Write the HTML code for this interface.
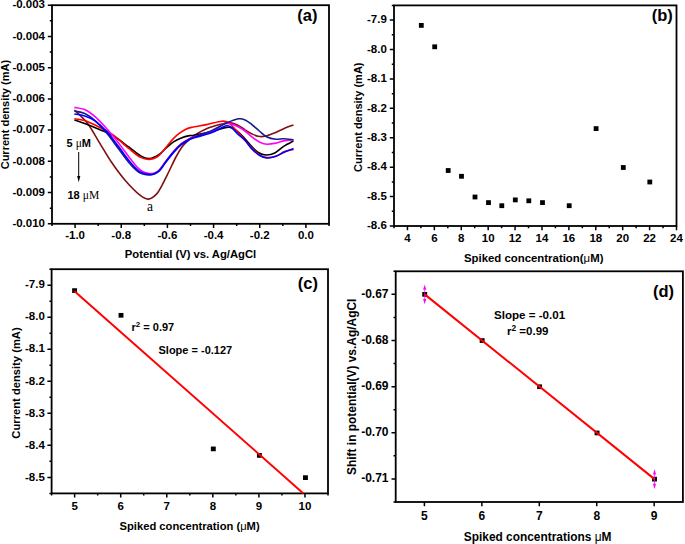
<!DOCTYPE html><html><head><meta charset="utf-8"><style>html,body{margin:0;padding:0;background:#fff;width:685px;height:544px;overflow:hidden}svg{display:block}text{font-family:"Liberation Sans", sans-serif;font-weight:bold;fill:#000}</style></head><body>
<svg width="685" height="544" viewBox="0 0 685 544">
<rect width="685" height="544" fill="#fff"/>
<rect x="52" y="5.2" width="277" height="218.6" fill="none" stroke="#000" stroke-width="1.8"/>
<path d="M75.08 223.8v4.2M121.25 223.8v4.2M167.42 223.8v4.2M213.58 223.8v4.2M259.75 223.8v4.2M305.92 223.8v4.2M52 223.8v2.2M98.17 223.8v2.2M144.33 223.8v2.2M190.5 223.8v2.2M236.67 223.8v2.2M282.83 223.8v2.2M329 223.8v2.2M52 223.8h-4.2M52 192.57h-4.2M52 161.34h-4.2M52 130.11h-4.2M52 98.89h-4.2M52 67.66h-4.2M52 36.43h-4.2M52 5.2h-4.2M52 208.19h-2.2M52 176.96h-2.2M52 145.73h-2.2M52 114.5h-2.2M52 83.27h-2.2M52 52.04h-2.2M52 20.81h-2.2" stroke="#000" stroke-width="1.5" fill="none"/>
<text x="75.08" y="239" font-size="11.5" text-anchor="middle">-1.0</text>
<text x="121.25" y="239" font-size="11.5" text-anchor="middle">-0.8</text>
<text x="167.42" y="239" font-size="11.5" text-anchor="middle">-0.6</text>
<text x="213.58" y="239" font-size="11.5" text-anchor="middle">-0.4</text>
<text x="259.75" y="239" font-size="11.5" text-anchor="middle">-0.2</text>
<text x="305.92" y="239" font-size="11.5" text-anchor="middle">0.0</text>
<text x="45" y="227.02" font-size="11.5" text-anchor="end">-0.010</text>
<text x="45" y="195.79" font-size="11.5" text-anchor="end">-0.009</text>
<text x="45" y="164.56" font-size="11.5" text-anchor="end">-0.008</text>
<text x="45" y="133.33" font-size="11.5" text-anchor="end">-0.007</text>
<text x="45" y="102.1" font-size="11.5" text-anchor="end">-0.006</text>
<text x="45" y="70.87" font-size="11.5" text-anchor="end">-0.005</text>
<text x="45" y="39.65" font-size="11.5" text-anchor="end">-0.004</text>
<text x="45" y="8.42" font-size="11.5" text-anchor="end">-0.003</text>
<path d="M74.4 110C76.6 112.25 83.43 118.07 87.6 123.5C91.77 128.93 95.47 136.22 99.4 142.6C103.33 148.98 107.03 155.67 111.2 161.8C115.37 167.93 119.6 173.83 124.4 179.4C129.2 184.97 136.02 191.92 140 195.2C143.98 198.48 145.55 199.28 148.3 199.1C151.05 198.92 154.22 196.4 156.5 194.1C158.78 191.8 159.97 188.98 162 185.3C164.03 181.62 166.42 176.63 168.7 172C170.98 167.37 173.45 161.72 175.7 157.5C177.95 153.28 180.05 149.58 182.2 146.7C184.35 143.82 186.62 142.05 188.6 140.2C190.58 138.35 191.12 137.52 194.1 135.6C197.08 133.68 201.68 130.68 206.5 128.7C211.32 126.72 219.32 124.72 223 123.7C226.68 122.68 226.2 122.4 228.6 122.6C231 122.8 234.67 123.68 237.4 124.9C240.13 126.12 242.63 128.43 245 129.9C247.37 131.37 249.4 132.63 251.6 133.7C253.8 134.77 255.98 135.87 258.2 136.3C260.42 136.73 262.32 136.82 264.9 136.3C267.48 135.78 270.58 134.47 273.7 133.2C276.82 131.93 280.3 130.08 283.6 128.7C286.9 127.32 291.85 125.53 293.5 124.9" stroke="#7f1010" stroke-width="1.6" fill="none" stroke-linejoin="round"/>
<path d="M74.4 119.9C76.12 120.5 80.53 121.92 84.7 123.5C88.87 125.08 94.75 127.43 99.4 129.4C104.05 131.37 107.7 132.37 112.6 135.3C117.5 138.23 124.13 143.57 128.8 147C133.47 150.43 137.17 153.97 140.6 155.9C144.03 157.83 146.3 158.83 149.4 158.6C152.5 158.37 156.35 156.33 159.2 154.5C162.05 152.67 164.05 149.75 166.5 147.6C168.95 145.45 171.43 143.22 173.9 141.6C176.37 139.98 178.7 138.9 181.3 137.9C183.9 136.9 187.37 136.05 189.5 135.6C191.63 135.15 190.35 135.88 194.1 135.2C197.85 134.52 206.8 132.77 212 131.5C217.2 130.23 222.17 128.25 225.3 127.6C228.43 126.95 228.78 126.95 230.8 127.6C232.82 128.25 235.03 129.65 237.4 131.5C239.77 133.35 242.63 136.22 245 138.7C247.37 141.18 249.4 144.1 251.6 146.4C253.8 148.7 255.8 151.07 258.2 152.5C260.6 153.93 263.23 154.92 266 155C268.77 155.08 271.87 154.43 274.8 153C277.73 151.57 280.48 148.42 283.6 146.4C286.72 144.38 291.85 141.82 293.5 140.9" stroke="#000000" stroke-width="1.6" fill="none" stroke-linejoin="round"/>
<path d="M74.4 118.8C76.12 119.1 80.53 119.2 84.7 120.6C88.87 122 94.75 124.87 99.4 127.2C104.05 129.53 107.7 131.05 112.6 134.6C117.5 138.15 124.13 144.7 128.8 148.5C133.47 152.3 137.17 155.58 140.6 157.4C144.03 159.22 146.6 159.5 149.4 159.4C152.2 159.3 155 158.32 157.4 156.8C159.8 155.28 161.52 152.92 163.8 150.3C166.08 147.68 168.8 143.7 171.1 141.1C173.4 138.5 175.3 136.6 177.6 134.7C179.9 132.8 182.6 130.92 184.9 129.7C187.2 128.48 187.8 128.25 191.4 127.4C195 126.55 201.43 125.63 206.5 124.6C211.57 123.57 218.12 121.53 221.8 121.2C225.48 120.87 226.18 121.07 228.6 122.6C231.02 124.13 233.73 127.63 236.3 130.4C238.87 133.17 241.55 136.43 244 139.2C246.45 141.97 248.45 144.4 251 147C253.55 149.6 256.63 153.03 259.3 154.8C261.97 156.57 264.23 157.37 267 157.6C269.77 157.83 272.95 157.2 275.9 156.2C278.85 155.2 281.77 152.73 284.7 151.6C287.63 150.47 292.03 149.77 293.5 149.4" stroke="#ff0000" stroke-width="1.6" fill="none" stroke-linejoin="round"/>
<path d="M74.4 107.4C76.12 107.77 81.27 108.05 84.7 109.6C88.13 111.15 91.32 113.52 95 116.7C98.68 119.88 102.88 124.33 106.8 128.7C110.72 133.07 114.83 138.23 118.5 142.9C122.17 147.57 125.62 152.58 128.8 156.7C131.98 160.82 135.23 165.1 137.6 167.6C139.97 170.1 141.03 170.72 143 171.7C144.97 172.68 147.48 173.28 149.4 173.5C151.32 173.72 152.95 173.48 154.5 173C156.05 172.52 157.37 171.77 158.7 170.6C160.03 169.43 161.2 167.7 162.5 166C163.8 164.3 164.6 162.88 166.5 160.4C168.4 157.92 171.43 153.88 173.9 151.1C176.37 148.32 178.85 145.7 181.3 143.7C183.75 141.7 186.47 140.25 188.6 139.1C190.73 137.95 190.2 138.05 194.1 136.8C198 135.55 207.18 133.68 212 131.6C216.82 129.52 220.05 125.62 223 124.3C225.95 122.98 227.12 123.25 229.7 123.7C232.28 124.15 235.95 125.78 238.5 127C241.05 128.22 242.63 129.23 245 131C247.37 132.77 250.13 135.68 252.7 137.6C255.27 139.52 258.02 141.4 260.4 142.5C262.78 143.6 264.42 144.1 267 144.2C269.58 144.3 273.13 143.65 275.9 143.1C278.67 142.55 280.67 141.45 283.6 140.9C286.53 140.35 291.85 139.98 293.5 139.8" stroke="#ff00ff" stroke-width="1.6" fill="none" stroke-linejoin="round"/>
<path d="M74.4 111C76.12 111.42 81.27 111.9 84.7 113.5C88.13 115.1 91.32 117.3 95 120.6C98.68 123.9 102.88 128.62 106.8 133.3C110.72 137.98 114.83 143.85 118.5 148.7C122.17 153.55 125.62 158.62 128.8 162.4C131.98 166.18 135.23 169.47 137.6 171.4C139.97 173.33 141.03 173.4 143 174C144.97 174.6 147.48 175.1 149.4 175C151.32 174.9 152.95 174.07 154.5 173.4C156.05 172.73 157.37 172.17 158.7 171C160.03 169.83 161.2 168.1 162.5 166.4C163.8 164.7 164.6 163.28 166.5 160.8C168.4 158.32 171.43 154.28 173.9 151.5C176.37 148.72 178.85 146.1 181.3 144.1C183.75 142.1 186.47 140.65 188.6 139.5C190.73 138.35 190.2 138.72 194.1 137.2C198 135.68 206.43 132.83 212 130.4C217.57 127.97 223.08 124.53 227.5 122.6C231.92 120.67 235.57 119.25 238.5 118.8C241.43 118.35 242.92 118.98 245.1 119.9C247.28 120.82 249.23 122.45 251.6 124.3C253.97 126.15 256.73 128.88 259.3 131C261.87 133.12 264.23 135.63 267 137C269.77 138.37 273.13 138.92 275.9 139.2C278.67 139.48 280.67 138.6 283.6 138.7C286.53 138.8 291.85 139.62 293.5 139.8" stroke="#1a1a8c" stroke-width="1.6" fill="none" stroke-linejoin="round"/>
<path d="M74.4 114C76.12 114.33 81.27 114.87 84.7 116C88.13 117.13 91.32 118.2 95 120.8C98.68 123.4 102.88 127.3 106.8 131.6C110.72 135.9 114.83 141.8 118.5 146.6C122.17 151.4 125.62 156.5 128.8 160.4C131.98 164.3 135.23 167.9 137.6 170C139.97 172.1 141.03 172.27 143 173C144.97 173.73 147.48 174.25 149.4 174.4C151.32 174.55 152.95 174.38 154.5 173.9C156.05 173.42 157.37 172.67 158.7 171.5C160.03 170.33 161.2 168.6 162.5 166.9C163.8 165.2 164.6 163.77 166.5 161.3C168.4 158.83 171.43 154.87 173.9 152.1C176.37 149.33 178.85 146.7 181.3 144.7C183.75 142.7 186.47 141.25 188.6 140.1C190.73 138.95 190.2 139.05 194.1 137.8C198 136.55 206.8 134.57 212 132.6C217.2 130.63 222.17 126.93 225.3 126C228.43 125.07 228.78 125.72 230.8 127C232.82 128.28 235.03 131.48 237.4 133.7C239.77 135.92 242.63 137.82 245 140.3C247.37 142.78 249.22 146.12 251.6 148.6C253.98 151.08 256.73 153.63 259.3 155.2C261.87 156.77 264.23 157.82 267 158C269.77 158.18 272.95 157.32 275.9 156.3C278.85 155.28 281.77 153.18 284.7 151.9C287.63 150.62 292.03 149.15 293.5 148.6" stroke="#0000ff" stroke-width="1.6" fill="none" stroke-linejoin="round"/>
<text x="66.5" y="147" font-size="11">5 <tspan font-family="Liberation Serif" font-weight="normal" font-size="11.5">&#956;</tspan>M</text>
<path d="M78.7 152V178" stroke="#000" stroke-width="1"/>
<path d="M77.1 176L78.7 182.3L80.3 176Z" fill="#000"/>
<text x="67.5" y="198.5" font-size="11">18 <tspan font-family="Liberation Serif" font-weight="normal" font-size="11.6">&#956;M</tspan></text>
<text x="150" y="211" font-size="13.6" text-anchor="middle" style="font-family:&quot;Liberation Serif&quot;,serif;font-weight:normal">a</text>
<text x="317.5" y="20.5" font-size="16.5" text-anchor="end">(a)</text>
<text transform="translate(9 114.6) rotate(-90)" font-size="11" text-anchor="middle">Current density (mA)</text>
<text x="190.5" y="258" font-size="11.25" text-anchor="middle">Potential (V) vs. Ag/AgCl</text>
<rect x="394" y="5.4" width="282.5" height="220.6" fill="none" stroke="#000" stroke-width="1.8"/>
<path d="M407.45 226v4.2M434.36 226v4.2M461.26 226v4.2M488.17 226v4.2M515.07 226v4.2M541.98 226v4.2M568.88 226v4.2M595.79 226v4.2M622.69 226v4.2M649.6 226v4.2M676.5 226v4.2M394 226v2.2M420.9 226v2.2M447.81 226v2.2M474.71 226v2.2M501.62 226v2.2M528.52 226v2.2M555.43 226v2.2M582.33 226v2.2M609.24 226v2.2M636.14 226v2.2M663.05 226v2.2M394 20.11h-4.2M394 49.52h-4.2M394 78.93h-4.2M394 108.35h-4.2M394 137.76h-4.2M394 167.17h-4.2M394 196.59h-4.2M394 226h-4.2M394 5.4h-2.2M394 34.81h-2.2M394 64.23h-2.2M394 93.64h-2.2M394 123.05h-2.2M394 152.47h-2.2M394 181.88h-2.2M394 211.29h-2.2" stroke="#000" stroke-width="1.5" fill="none"/>
<text x="407.45" y="242" font-size="11.5" text-anchor="middle">4</text>
<text x="434.36" y="242" font-size="11.5" text-anchor="middle">6</text>
<text x="461.26" y="242" font-size="11.5" text-anchor="middle">8</text>
<text x="488.17" y="242" font-size="11.5" text-anchor="middle">10</text>
<text x="515.07" y="242" font-size="11.5" text-anchor="middle">12</text>
<text x="541.98" y="242" font-size="11.5" text-anchor="middle">14</text>
<text x="568.88" y="242" font-size="11.5" text-anchor="middle">16</text>
<text x="595.79" y="242" font-size="11.5" text-anchor="middle">18</text>
<text x="622.69" y="242" font-size="11.5" text-anchor="middle">20</text>
<text x="649.6" y="242" font-size="11.5" text-anchor="middle">22</text>
<text x="676.5" y="242" font-size="11.5" text-anchor="middle">24</text>
<text x="386.8" y="23.32" font-size="11.5" text-anchor="end">-7.9</text>
<text x="386.8" y="52.74" font-size="11.5" text-anchor="end">-8.0</text>
<text x="386.8" y="82.15" font-size="11.5" text-anchor="end">-8.1</text>
<text x="386.8" y="111.56" font-size="11.5" text-anchor="end">-8.2</text>
<text x="386.8" y="140.98" font-size="11.5" text-anchor="end">-8.3</text>
<text x="386.8" y="170.39" font-size="11.5" text-anchor="end">-8.4</text>
<text x="386.8" y="199.8" font-size="11.5" text-anchor="end">-8.5</text>
<text x="386.8" y="229.22" font-size="11.5" text-anchor="end">-8.6</text>
<rect x="418.9" y="23" width="4.8" height="4.8" fill="#000"/>
<rect x="432.3" y="44.4" width="4.8" height="4.8" fill="#000"/>
<rect x="445.8" y="168.1" width="4.8" height="4.8" fill="#000"/>
<rect x="459.1" y="173.9" width="4.8" height="4.8" fill="#000"/>
<rect x="472.6" y="194.6" width="4.8" height="4.8" fill="#000"/>
<rect x="486.1" y="200.2" width="4.8" height="4.8" fill="#000"/>
<rect x="499.4" y="203.3" width="4.8" height="4.8" fill="#000"/>
<rect x="512.9" y="197.5" width="4.8" height="4.8" fill="#000"/>
<rect x="526.4" y="198.4" width="4.8" height="4.8" fill="#000"/>
<rect x="540.1" y="200.2" width="4.8" height="4.8" fill="#000"/>
<rect x="566.8" y="203.3" width="4.8" height="4.8" fill="#000"/>
<rect x="593.7" y="126.2" width="4.8" height="4.8" fill="#000"/>
<rect x="620.9" y="165.1" width="4.8" height="4.8" fill="#000"/>
<rect x="647.4" y="179.6" width="4.8" height="4.8" fill="#000"/>
<text x="672.8" y="20.5" font-size="16.5" text-anchor="end">(b)</text>
<text transform="translate(362 117.2) rotate(-90)" font-size="11" text-anchor="middle">Current density (mA)</text>
<text x="533.7" y="261.7" font-size="11.4" text-anchor="middle">Spiked concentration(<tspan font-weight="normal">&#956;</tspan>M)</text>
<rect x="51.6" y="269.2" width="276.4" height="224.2" fill="none" stroke="#000" stroke-width="1.8"/>
<path d="M74.63 493.4v4.2M120.7 493.4v4.2M166.77 493.4v4.2M212.83 493.4v4.2M258.9 493.4v4.2M304.97 493.4v4.2M51.6 493.4v2.2M97.67 493.4v2.2M143.73 493.4v2.2M189.8 493.4v2.2M235.87 493.4v2.2M281.93 493.4v2.2M328 493.4v2.2M51.6 285.21h-4.2M51.6 317.24h-4.2M51.6 349.27h-4.2M51.6 381.3h-4.2M51.6 413.33h-4.2M51.6 445.36h-4.2M51.6 477.39h-4.2M51.6 269.2h-2.2M51.6 301.23h-2.2M51.6 333.26h-2.2M51.6 365.29h-2.2M51.6 397.31h-2.2M51.6 429.34h-2.2M51.6 461.37h-2.2M51.6 493.4h-2.2" stroke="#000" stroke-width="1.5" fill="none"/>
<text x="74.63" y="509.5" font-size="11.5" text-anchor="middle">5</text>
<text x="120.7" y="509.5" font-size="11.5" text-anchor="middle">6</text>
<text x="166.77" y="509.5" font-size="11.5" text-anchor="middle">7</text>
<text x="212.83" y="509.5" font-size="11.5" text-anchor="middle">8</text>
<text x="258.9" y="509.5" font-size="11.5" text-anchor="middle">9</text>
<text x="304.97" y="509.5" font-size="11.5" text-anchor="middle">10</text>
<text x="44.8" y="288.43" font-size="11.5" text-anchor="end">-7.9</text>
<text x="44.8" y="320.46" font-size="11.5" text-anchor="end">-8.0</text>
<text x="44.8" y="352.49" font-size="11.5" text-anchor="end">-8.1</text>
<text x="44.8" y="384.52" font-size="11.5" text-anchor="end">-8.2</text>
<text x="44.8" y="416.55" font-size="11.5" text-anchor="end">-8.3</text>
<text x="44.8" y="448.57" font-size="11.5" text-anchor="end">-8.4</text>
<text x="44.8" y="480.6" font-size="11.5" text-anchor="end">-8.5</text>
<rect x="72.15" y="288.25" width="4.9" height="4.7" fill="#000"/>
<rect x="118.55" y="312.95" width="4.9" height="4.7" fill="#000"/>
<rect x="210.85" y="446.55" width="4.9" height="4.7" fill="#000"/>
<rect x="256.95" y="453.05" width="4.9" height="4.7" fill="#000"/>
<rect x="303" y="475.3" width="4.9" height="4.7" fill="#000"/>
<path d="M74.5 291.2L303.4 493.4" stroke="#ff0000" stroke-width="2" fill="none"/>
<text x="318" y="288.5" font-size="16.5" text-anchor="end">(c)</text>
<text x="131.5" y="331" font-size="11">r<tspan font-size="8" dy="-4.5">2</tspan><tspan dy="4.5"> = 0.97</tspan></text>
<text x="158.5" y="354.2" font-size="11">Slope = -0.127</text>
<text transform="translate(20 383) rotate(-90)" font-size="11.2" text-anchor="middle">Current density (mA)</text>
<text x="189.6" y="530" font-size="11.2" text-anchor="middle">Spiked concentration (<tspan font-weight="normal">&#956;</tspan>M)</text>
<rect x="395.7" y="271.3" width="287.2" height="230.7" fill="none" stroke="#000" stroke-width="1.8"/>
<path d="M424.42 502v4.2M481.86 502v4.2M539.3 502v4.2M596.74 502v4.2M654.18 502v4.2M395.7 294.37h-4.2M395.7 340.51h-4.2M395.7 386.65h-4.2M395.7 432.79h-4.2M395.7 478.93h-4.2M395.7 271.3h-2.2M395.7 317.44h-2.2M395.7 363.58h-2.2M395.7 409.72h-2.2M395.7 455.86h-2.2M395.7 502h-2.2" stroke="#000" stroke-width="1.5" fill="none"/>
<text x="424.42" y="519.5" font-size="12" text-anchor="middle">5</text>
<text x="481.86" y="519.5" font-size="12" text-anchor="middle">6</text>
<text x="539.3" y="519.5" font-size="12" text-anchor="middle">7</text>
<text x="596.74" y="519.5" font-size="12" text-anchor="middle">8</text>
<text x="654.18" y="519.5" font-size="12" text-anchor="middle">9</text>
<text x="388.5" y="297.77" font-size="12" text-anchor="end">-0.67</text>
<text x="388.5" y="343.91" font-size="12" text-anchor="end">-0.68</text>
<text x="388.5" y="390.05" font-size="12" text-anchor="end">-0.69</text>
<text x="388.5" y="436.19" font-size="12" text-anchor="end">-0.70</text>
<text x="388.5" y="482.33" font-size="12" text-anchor="end">-0.71</text>
<rect x="422.25" y="292" width="4.9" height="4.7" fill="#000"/>
<rect x="479.7" y="338.2" width="4.9" height="4.7" fill="#000"/>
<rect x="537.15" y="384.4" width="4.9" height="4.7" fill="#000"/>
<rect x="594.6" y="430.6" width="4.9" height="4.7" fill="#000"/>
<rect x="652.05" y="476.8" width="4.9" height="4.7" fill="#000"/>
<path d="M424.7 294.35L654.5 479.15" stroke="#ff0000" stroke-width="2" fill="none"/>
<path d="M424.7 289.35V299.35" stroke="#ff00ff" stroke-width="0.9" opacity="0.8"/>
<path d="M424.7 284.55L426.3 289.65H423.1Z" fill="#ff00ff"/>
<path d="M424.7 304.15L426.3 299.05H423.1Z" fill="#ff00ff"/>
<path d="M654.5 474.15V484.15" stroke="#ff00ff" stroke-width="0.9" opacity="0.8"/>
<path d="M654.5 469.35L656.1 474.45H652.9Z" fill="#ff00ff"/>
<path d="M654.5 488.95L656.1 483.85H652.9Z" fill="#ff00ff"/>
<text x="674" y="297.1" font-size="16.5" text-anchor="end">(d)</text>
<text x="529.6" y="319.4" font-size="11.6" text-anchor="middle">Slope = -0.01</text>
<text x="507" y="335" font-size="11.5">r<tspan font-size="8.4" dy="-4.5">2</tspan><tspan dy="4.5"> =0.99</tspan></text>
<text transform="translate(356.1 386.8) rotate(-90)" font-size="11.95" text-anchor="middle">Shift in potential(V) vs.Ag/AgCl</text>
<text x="537.6" y="540.5" font-size="11.9" text-anchor="middle">Spiked concentrations <tspan font-weight="normal">&#956;</tspan>M</text>
</svg></body></html>
